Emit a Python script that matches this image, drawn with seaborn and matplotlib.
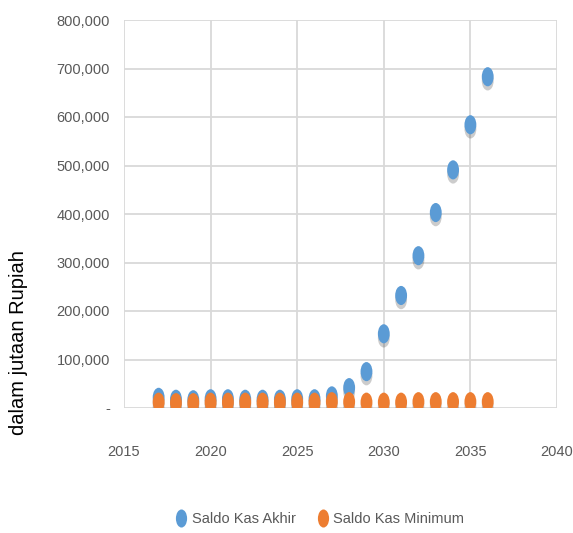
import numpy as np
import pandas as pd
import seaborn as sns
import matplotlib.pyplot as plt
import matplotlib.patheffects as pe
from matplotlib.path import Path
from matplotlib.transforms import Affine2D
from matplotlib.ticker import FuncFormatter

years = list(range(2017, 2037))
saldo_akhir = [22000, 18000, 17000, 19000, 19000, 18000, 18000, 18000, 19000, 19000,
               25000, 42000, 75000, 153000, 232000, 314000, 403000, 491000, 584000, 683000]
saldo_min = [12000, 11000, 11000, 12000, 12000, 12000, 12000, 12000, 12000, 12000,
             13000, 13000, 12000, 12000, 12000, 13000, 13000, 13000, 13000, 13000]
series_names = ["Saldo Kas Akhir", "Saldo Kas Minimum"]
colors = ["#5B9BD5", "#ED7D31"]

df = pd.DataFrame({
    "Tahun": years * 2,
    "Saldo": saldo_akhir + saldo_min,
    "Seri": [series_names[0]] * len(years) + [series_names[1]] * len(years),
})

sns.set_style("white")
plt.rcParams["font.family"] = ["Liberation Sans", "DejaVu Sans"]

# tall ellipse marker, like the squeezed Excel dots
ellipse = Path.unit_circle().transformed(Affine2D().scale(0.62, 1.0))

fig = plt.figure(figsize=(5.73, 5.33), dpi=100)
ax = fig.add_axes([124 / 573, 1 - 408 / 533, (557 - 124) / 573, (408 - 20) / 533])

sns.scatterplot(data=df, x="Tahun", y="Saldo", hue="Seri", palette=colors,
                marker=ellipse, s=190, linewidth=0, ax=ax, legend=False, zorder=3)
for coll in ax.collections:
    coll.set_path_effects([pe.SimplePatchShadow(offset=(0, -3), shadow_rgbFace="black",
                                                alpha=0.2), pe.Normal()])

ax.set_xlim(2015, 2040)
ax.set_ylim(0, 800000)
ax.set_xticks(range(2015, 2041, 5))
ax.set_yticks(range(0, 800001, 100000))
ax.yaxis.set_major_formatter(FuncFormatter(lambda v, p: "-" if v == 0 else f"{int(v):,}"))
ax.grid(True, color="#d9d9d9", linewidth=1.3)
for s in ax.spines.values():
    s.set_visible(False)
ax.tick_params(axis="both", length=0, labelsize=10.5, labelcolor="#595959")
ax.tick_params(axis="x", pad=27)
ax.tick_params(axis="y", pad=10)
ax.set_xlabel("")
ax.set_ylabel("")

fig.text(19 / 573, 1 - 343 / 533, "dalam jutaan Rupiah", rotation=90, ha="center",
         va="center", fontsize=14.5, color="black")

handles = [plt.Line2D([], [], marker=ellipse, linestyle="", markersize=13,
                      markerfacecolor=c, markeredgewidth=0) for c in colors]
fig.legend(handles, series_names, loc="center", bbox_to_anchor=(0.557, 1 - 519 / 533),
           ncol=2, frameon=False, fontsize=10.5, labelcolor="#595959",
           handletextpad=0.2, columnspacing=1.4, handlelength=1)

fig.savefig("out.png", dpi=100)
